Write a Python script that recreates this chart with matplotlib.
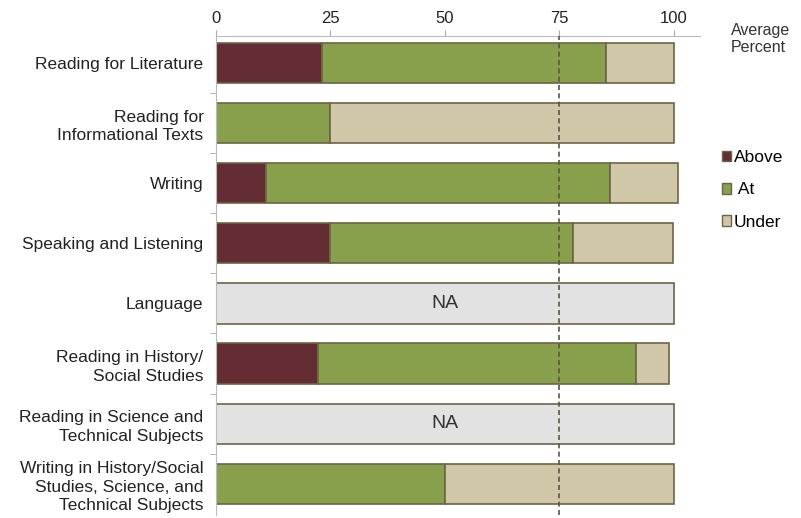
import numpy as np
import matplotlib.pyplot as plt
from matplotlib.patches import Patch

plt.rcParams['font.family'] = ['Liberation Sans', 'DejaVu Sans']

categories = [
    "Reading for Literature",
    "Reading for\nInformational Texts",
    "Writing",
    "Speaking and Listening",
    "Language",
    "Reading in History/\nSocial Studies",
    "Reading in Science and\nTechnical Subjects",
    "Writing in History/Social\nStudies, Science, and\nTechnical Subjects",
]
above = [23.1, 0, 10.9, 25.0, 0, 22.3, 0, 0]
at = [62.1, 24.9, 75.2, 53.0, 0, 69.5, 0, 50.0]
under = [14.8, 75.1, 14.7, 21.8, 0, 7.2, 0, 50.0]
na = [0, 0, 0, 0, 100, 0, 100, 0]
target = 75

c_above = "#642d33"
c_at = "#88a04b"
c_under = "#d0c7a9"
c_na = "#e2e2e2"
c_edge = "#6b6546"

fig = plt.figure(figsize=(8.01, 5.18), dpi=100)
ax = fig.add_axes([216 / 801, 1 - 515 / 518, 484 / 801, 479 / 518])

y = np.arange(len(categories))
h = 0.67
above = np.array(above)
at = np.array(at)
under = np.array(under)
na = np.array(na)

ax.barh(y, above, h, color=c_above, edgecolor=c_edge, linewidth=1.2, zorder=2)
ax.barh(y, at, h, left=above, color=c_at, edgecolor=c_edge, linewidth=1.2, zorder=2)
ax.barh(y, under, h, left=above + at, color=c_under, edgecolor=c_edge, linewidth=1.2, zorder=2)
ax.barh(y, na, h, color=c_na, edgecolor=c_edge, linewidth=1.2, zorder=2)
for i, v in enumerate(na):
    if v > 0:
        ax.text(v / 2, i, "NA", ha="center", va="center", fontsize=14, color="#333333", zorder=3)

ax.axvline(target, color="#5a5544", linestyle=(0, (3, 2)), linewidth=1.2, zorder=3)

ax.set_xlim(0, 105.7)
ax.set_ylim(7.52, -0.45)
ax.xaxis.tick_top()
ax.set_xticks([0, 25, 50, 75, 100])
ax.tick_params(axis="x", length=4, color="#aaaaaa", labelsize=12, pad=3, labelcolor="#222222")
ax.set_yticks(y)
ax.set_yticklabels(categories, fontsize=12.5, color="#222222", linespacing=1.3)
ax.set_yticks(np.arange(len(categories) - 1) + 0.5, minor=True)
ax.tick_params(axis="y", which="major", length=0, pad=9)
ax.tick_params(axis="y", which="minor", length=4, color="#aaaaaa")

for s in ["right", "bottom"]:
    ax.spines[s].set_visible(False)
ax.spines["top"].set_color("#bbbbbb")
ax.spines["left"].set_color("#bbbbbb")

fig.text(731 / 801, 1 - 39 / 518, "Average\nPercent", ha="left", va="center",
         fontsize=11.5, color="#333333", linespacing=1.1)

handles = [Patch(facecolor=c_above, edgecolor=c_edge, label="Above"),
           Patch(facecolor=c_at, edgecolor=c_edge, label=" At"),
           Patch(facecolor=c_under, edgecolor=c_edge, label="Under")]
fig.legend(handles=handles, loc="center left", bbox_to_anchor=(713 / 801, 1 - 190 / 518),
           frameon=False, fontsize=12.5, handlelength=0.55, handleheight=0.55,
           handletextpad=0.15, labelspacing=1.0, borderpad=0)

fig.savefig("out.png", dpi=100)
